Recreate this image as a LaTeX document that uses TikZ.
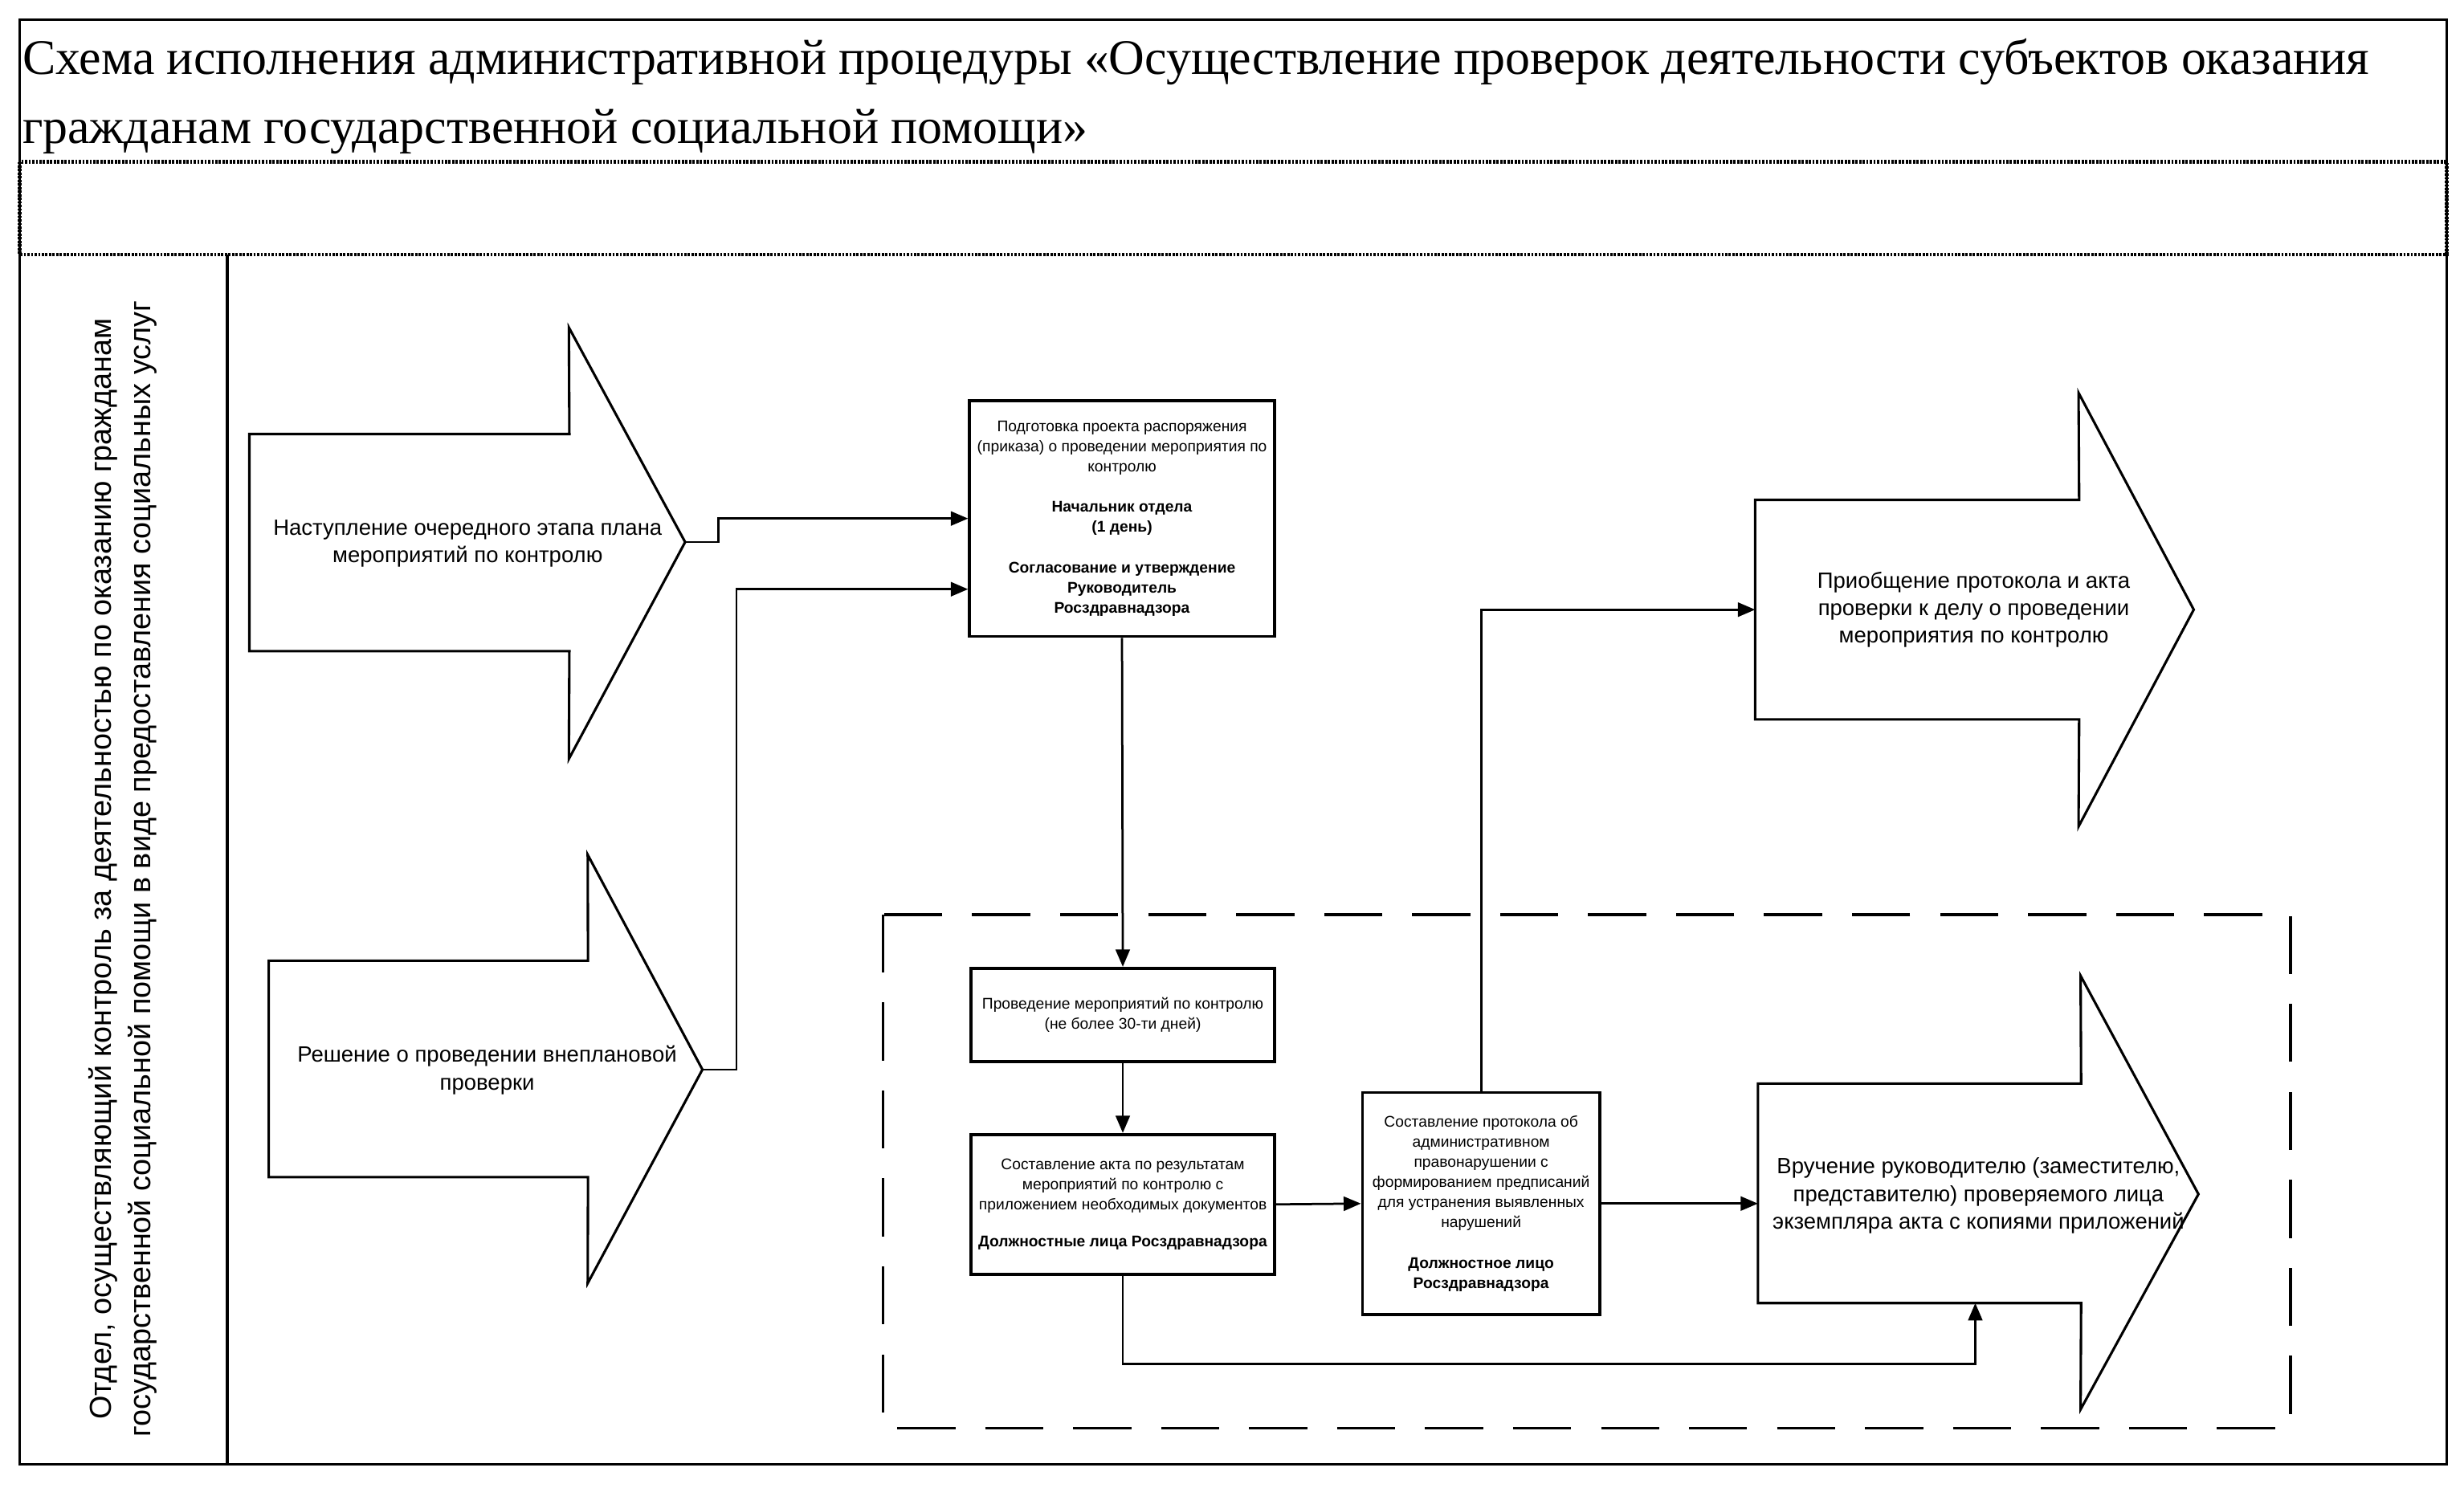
\documentclass[tikz,border=0pt]{standalone}
\usepackage{fontspec}
\setmainfont{Liberation Serif}
\setsansfont{Liberation Sans}
\usetikzlibrary{arrows.meta}

\begin{document}
\begin{tikzpicture}[x=0.02cm, y=-0.02cm,
	box/.style={draw, line width=1.1pt, inner sep=1pt, align=center, font=\sffamily\fontsize{5.6}{7.3}\selectfont},
	body/.style={inner sep=0pt},
	blockarrow/.style={line width=0.9pt, line join=miter},
	arrowtext/.style={align=center, font=\sffamily\fontsize{8}{10}\selectfont},
	link/.style={line width=0.8pt, -{Triangle[length=2.2mm, width=1.8mm]}}]
	
	\useasboundingbox (0,0) rectangle (1568,947);
	
	% frame and rows
	\draw [line width=1pt] (12.5,12.5) rectangle (1557,932);
	\draw [line width=1.4pt, dash pattern=on 0.8pt off 0.5pt] (12.5,103) rectangle (1557,162);
	\draw [line width=1pt] (144.6,162) -- (144.6,932);
	
	\node [anchor=base west, align=left, inner sep=0pt, font=\fontsize{18}{25}\selectfont] (title) at (14,91) {Схема исполнения административной процедуры «Осуществление проверок деятельности субъектов оказания\\гражданам государственной социальной помощи»};
	
	\node [rotate=90, align=center, font=\sffamily\fontsize{11}{14.2}\selectfont] (lane) at (78,553) {Отдел, осуществляющий контроль за деятельностью по оказанию гражданам\\государственной социальной помощи в виде предоставления социальных услуг};
	
	% block arrows
	\node [body, minimum width=4.06cm, minimum height=2.75cm] (planbody) at (260.5,345.3) {};
	\coordinate (plantip) at (436,345);
	\draw [blockarrow] (planbody.south west) -- (planbody.north west) -- (planbody.north east) -- (362,208.4) -- (plantip) -- (362,483) -- (planbody.south east) -- cycle;
	\node [arrowtext] (plantext) at (297.6,346) {Наступление очередного этапа плана\\мероприятий по контролю};
	
	\node [body, minimum width=4.05cm, minimum height=2.74cm] (checkbody) at (272.6,680.3) {};
	\coordinate (checktip) at (447,680.7);
	\draw [blockarrow] (checkbody.south west) -- (checkbody.north west) -- (checkbody.north east) -- (374,544) -- (checktip) -- (374,816.7) -- (checkbody.south east) -- cycle;
	\node [arrowtext] (checktext) at (310,681) {Решение о проведении внеплановой\\проверки};
	
	\node [body, minimum width=4.11cm, minimum height=2.78cm] (attachbody) at (1220,388) {};
	\draw [blockarrow] (attachbody.south west) -- (attachbody.north west) -- (attachbody.north east) -- (1322.7,250) -- (1396,388) -- (1322.7,526) -- (attachbody.south east) -- cycle;
	\node [arrowtext] (attachtext) at (1256,388) {Приобщение протокола и акта\\проверки к делу о проведении\\мероприятия по контролю};
	
	\node [body, minimum width=4.1cm, minimum height=2.78cm] (handbody) at (1221.5,759.5) {};
	\draw [blockarrow] (handbody.south west) -- (handbody.north west) -- (handbody.north east) -- (1324,621) -- (1399,760) -- (1324,897) -- (handbody.south east) -- cycle;
	\node [arrowtext] (handtext) at (1259,761) {Вручение руководителю (заместителю,\\представителю) проверяемого лица\\экземпляра акта с копиями приложений};
	
	% dashed area
	\draw [line width=1pt, dash pattern=on 0.74cm off 0.38cm] (562,582) rectangle (1457.6,909);
	
	% boxes
	\node [box, minimum width=3.88cm, minimum height=3cm] (prep) at (714,330) {Подготовка проекта распоряжения\\(приказа) о проведении мероприятия по\\контролю\\[7.3pt]\textbf{Начальник отдела}\\\textbf{(1 день)}\\[7.3pt]\textbf{Согласование и утверждение}\\\textbf{Руководитель}\\\textbf{Росздравнадзора}};
	\node [box, minimum width=3.86cm, minimum height=1.19cm] (conduct) at (714.5,646) {Проведение мероприятий по контролю\\(не более 30-ти дней)};
	\node [box, minimum width=3.86cm, minimum height=1.78cm] (act) at (714.5,766.5) {Составление акта по результатам\\мероприятий по контролю с\\приложением необходимых документов\\[6pt]\textbf{Должностные лица Росздравнадзора}};
	\node [box, minimum width=3.02cm, minimum height=2.83cm] (protocol) at (942.5,766) {Составление протокола об\\административном\\правонарушении с\\формированием предписаний\\для устранения выявленных\\нарушений\\[7.3pt]\textbf{Должностное лицо}\\\textbf{Росздравнадзора}};
	
	% connectors
	\draw [link] (plantip) -- ++(21,0) |- (prep.west);
	\draw [link] (checktip) -- ++(21.7,0) |- ([yshift=-0.9cm]prep.west);
	\draw [link] (prep.south) -- (conduct.north);
	\draw [link] (conduct.south) -- (act.north);
	\draw [link] (act.east) -- (protocol.west);
	\draw [link] (protocol.east) -- (protocol.east -| handbody.west);
	\draw [link] (protocol.north) |- (attachbody.west);
	\draw [link] (act.south) -- ++(0,56) -| ([xshift=0.71cm]handbody.south);
	
\end{tikzpicture}
\end{document}
